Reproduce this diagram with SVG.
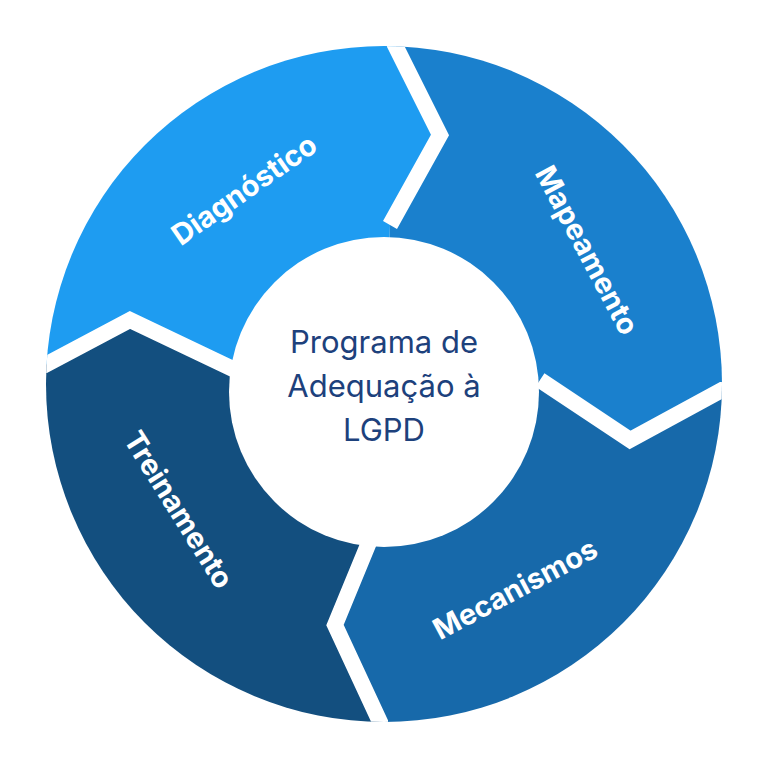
<svg xmlns="http://www.w3.org/2000/svg" width="768" height="768" viewBox="0 0 768 768">
<defs>
<clipPath id="c"><circle cx="384" cy="384" r="338"/></clipPath>
<style>
.lbl{font-family:Inter,"Open Sans",sans-serif;font-weight:700;font-size:29px;fill:#fff;text-anchor:middle}
.ctr{font-family:Inter,"Open Sans",sans-serif;font-size:31px;fill:#1D417C;text-anchor:middle}
.gap{fill:none;stroke:#fff;stroke-width:16;stroke-linejoin:miter}
</style>
</defs>
<rect width="768" height="768" fill="#fff"/>
<g clip-path="url(#c)">
<g id="diagnostico"><polygon fill="#1E9CF1" points="384,392 235,370 130,320 45,365 -100,365 -100,-100 395,-100 395,45 440,135 390,225"/></g>
<g id="mapeamento"><polygon fill="#1A80CD" points="384,392 390,225 440,135 395,45 395,-100 900,-100 900,390 722,390 630,440 540,380"/></g>
<g id="mecanismos"><polygon fill="#1769AA" points="384,392 540,380 630,440 722,390 900,390 900,900 380,900 380,722 335,625 370,540"/></g>
<g id="treinamento"><polygon fill="#134F7F" points="384,392 370,540 335,625 380,722 380,900 -100,900 -100,365 45,365 130,320 235,370"/></g>
<g id="connectors">
<polyline class="gap" points="390,225 440,135 395,45 395,-20"/>
<polyline class="gap" points="540,380 630,440 722,390 790,390"/>
<polyline class="gap" points="370,540 335,625 380,722 380,790"/>
<polyline class="gap" points="235,370 130,320 45,365 -20,365"/>
</g>
</g>
<g id="center"><circle cx="384" cy="392" r="155" fill="#fff"/>
<text class="ctr" x="384" y="353">Programa de</text>
<text class="ctr" x="384" y="397">Adequação à</text>
<text class="ctr" x="384" y="441">LGPD</text></g>
<text class="lbl" transform="translate(250,198) rotate(-35)">Diagnóstico</text>
<text class="lbl" transform="translate(578,255) rotate(62)">Mapeamento</text>
<text class="lbl" transform="translate(520,598) rotate(-28)">Mecanismos</text>
<text class="lbl" transform="translate(170,515) rotate(58)">Treinamento</text>
</svg>
